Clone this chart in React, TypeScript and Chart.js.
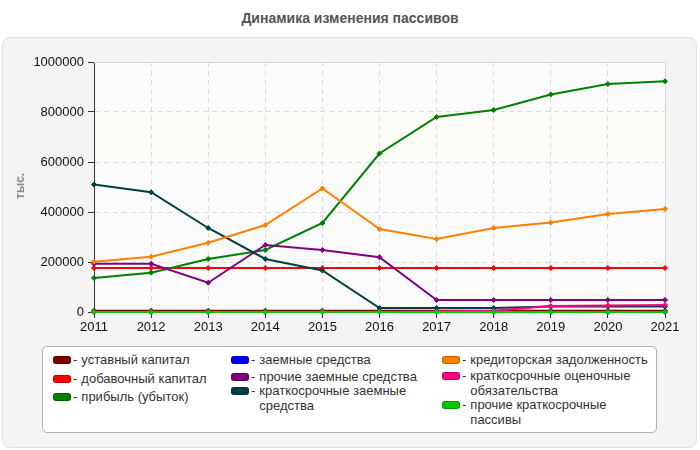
import React, { useEffect, useRef } from "react";
import { Chart, registerables } from "chart.js";

Chart.register(...registerables);

const FONT = "Arial, 'Liberation Sans', sans-serif";

const years = ["2011", "2012", "2013", "2014", "2015", "2016", "2017", "2018", "2019", "2020", "2021"];

// тыс. руб.
const ustavnyKapital = [5000, 5000, 5000, 5000, 5000, 5000, 5000, 5000, 5000, 5000, 5000];
const dobavochnyKapital = [176000, 176000, 176000, 176000, 176000, 176000, 176000, 176000, 176000, 176000, 176000];
const pribyl = [136000, 157000, 212000, 248000, 356000, 634000, 780000, 808000, 870000, 912000, 923000];
const zaemnyeSredstva = [0, 0, 0, 0, 0, 0, 0, 0, 0, 0, 0];
const prochieZaemnye = [193000, 193000, 117000, 268000, 248000, 219000, 48000, 48000, 48000, 48000, 48000];
const kratkZaemnye = [510000, 479000, 336000, 212000, 166000, 16000, 16000, 16000, 22000, 22000, 22000];
const kreditorskaya = [201000, 221000, 277000, 348000, 494000, 332000, 292000, 336000, 358000, 392000, 412000];
const ocenochnye = [0, 0, 0, 0, 0, 0, 2000, 5000, 24000, 26000, 28000];
const prochieKratk = [0, 0, 0, 0, 0, 0, 0, 0, 0, 0, 0];

const yTicksMax = 1000000;
const yTicksStep = 200000;

type Series = { label: string; data: number[]; color: string };

const series: Series[] = [
  { label: "уставный капитал", data: ustavnyKapital, color: "#800000" },
  { label: "добавочный капитал", data: dobavochnyKapital, color: "#ff0000" },
  { label: "прибыль (убыток)", data: pribyl, color: "#008000" },
  { label: "заемные средства", data: zaemnyeSredstva, color: "#0000ff" },
  { label: "прочие заемные средства", data: prochieZaemnye, color: "#800080" },
  { label: "краткосрочные заемные средства", data: kratkZaemnye, color: "#004040" },
  { label: "кредиторская задолженность", data: kreditorskaya, color: "#ff8000" },
  { label: "краткосрочные оценочные обязательства", data: ocenochnye, color: "#ff0080" },
  { label: "прочие краткосрочные пассивы", data: prochieKratk, color: "#00c800" },
];

// legend layout: [series index, left, top, text width]
const legendItems: [number, number, number, number][] = [
  [0, 53, 353, 140],
  [1, 53, 372, 140],
  [2, 53, 390, 140],
  [3, 231, 353, 168],
  [4, 231, 370, 168],
  [5, 231, 384, 168],
  [6, 442, 353, 185],
  [7, 442, 369, 185],
  [8, 442, 398, 185],
];

const plotBackground = {
  id: "plotBackground",
  beforeDraw(chart: any) {
    const { ctx, chartArea: a, scales } = chart;
    if (!a) return;
    const y = scales.y;
    ctx.save();
    ctx.fillStyle = "#ffffff";
    ctx.fillRect(a.left, a.top, a.right - a.left, a.bottom - a.top);
    const yTop = y.getPixelForValue(800000);
    const yBot = y.getPixelForValue(600000);
    ctx.fillStyle = "#fdfdf7";
    ctx.fillRect(a.left, yTop, a.right - a.left, yBot - yTop);
    // diagonal hatching
    const p = document.createElement("canvas");
    p.width = 4;
    p.height = 4;
    const pc = p.getContext("2d")!;
    pc.strokeStyle = "rgba(0,0,0,0.05)";
    pc.lineWidth = 1;
    pc.beginPath();
    pc.moveTo(0, 4);
    pc.lineTo(4, 0);
    pc.stroke();
    const pattern = ctx.createPattern(p, "repeat");
    if (pattern) {
      ctx.fillStyle = pattern;
      ctx.fillRect(a.left, yTop, a.right - a.left, a.top - yTop);
      ctx.fillRect(a.left, yBot, a.right - a.left, a.bottom - yBot);
    }
    ctx.restore();
  },
  beforeDatasetsDraw(chart: any) {
    const { ctx, chartArea: a } = chart;
    ctx.save();
    ctx.strokeStyle = "#d8d8d8";
    ctx.lineWidth = 1;
    ctx.beginPath();
    ctx.moveTo(a.left, a.top + 0.5);
    ctx.lineTo(a.right + 0.5, a.top + 0.5);
    ctx.lineTo(a.right + 0.5, a.bottom);
    ctx.stroke();
    ctx.restore();
  },
};

export default function App() {
  const ref = useRef<HTMLCanvasElement>(null);

  useEffect(() => {
    const chart = new Chart(ref.current!, {
      type: "line",
      data: {
        labels: years,
        datasets: series.map((s, i) => ({
          label: s.label,
          data: s.data,
          borderColor: s.color,
          backgroundColor: s.color,
          borderWidth: 2,
          pointStyle: "rectRot",
          pointRadius: 2.5,
          pointBorderWidth: 1,
          pointBackgroundColor: s.color,
          pointBorderColor: s.color,
          tension: 0,
          fill: false,
          clip: 6,
          order: -i,
        })),
      },
      plugins: [plotBackground],
      options: {
        responsive: false,
        animation: false,
        layout: { padding: { left: 0, right: 35, top: 25, bottom: 0 } },
        plugins: {
          legend: { display: false },
          title: { display: false },
          tooltip: { enabled: false },
        },
        scales: {
          x: {
            type: "category",
            offset: false,
            grid: { color: "#dcdcdc", tickColor: "#333", tickLength: 6, lineWidth: 1 },
            border: { color: "#333", width: 1, dash: [5, 4] },
            ticks: {
              color: "#111",
              font: { size: 13, family: FONT },
              padding: 2,
              maxRotation: 0,
              autoSkip: false,
            },
            afterFit: (s: any) => {
              s.height = 30;
            },
          },
          y: {
            min: 0,
            max: yTicksMax,
            grid: { color: "#dcdcdc", tickColor: "#333", tickLength: 6, lineWidth: 1 },
            border: { color: "#333", width: 1, dash: [5, 4] },
            ticks: {
              stepSize: yTicksStep,
              color: "#111",
              font: { size: 13, family: FONT },
              padding: 4,
              callback: (v: any) => String(v),
            },
            afterFit: (s: any) => {
              s.width = 94;
            },
          },
        },
      },
    });
    return () => chart.destroy();
  }, []);

  return (
    <div
      style={{
        position: "fixed",
        left: 0,
        top: 0,
        width: 700,
        height: 450,
        background: "#ffffff",
        fontFamily: FONT,
        overflow: "hidden",
      }}
    >
      <div
        style={{
          position: "absolute",
          left: 0,
          top: 10,
          width: 700,
          textAlign: "center",
          fontWeight: "bold",
          fontSize: 14,
          lineHeight: "16px",
          color: "#555",
        }}
      >
        Динамика изменения пассивов
      </div>
      <div
        style={{
          position: "absolute",
          left: 2,
          top: 37,
          width: 695,
          height: 411,
          boxSizing: "border-box",
          background: "#f4f4f4",
          border: "1px solid #e2e2e2",
          borderRadius: 8,
        }}
      />
      <canvas
        ref={ref}
        width={700}
        height={305}
        style={{ position: "absolute", left: 0, top: 37, width: 700, height: 305 }}
      />
      <div
        style={{
          position: "absolute",
          left: 20,
          top: 186,
          transform: "translate(-50%, -50%) rotate(-90deg)",
          fontSize: 12,
          fontWeight: "bold",
          color: "#888",
          whiteSpace: "nowrap",
        }}
      >
        тыс.
      </div>
      <div
        style={{
          position: "absolute",
          left: 42,
          top: 346,
          width: 615,
          height: 87,
          boxSizing: "border-box",
          background: "#ffffff",
          border: "1px solid #b4b4b4",
          borderRadius: 5,
        }}
      />
      {legendItems.map(([idx, left, top, w]) => {
        const s = series[idx];
        return (
          <div
            key={idx}
            style={{
              position: "absolute",
              left,
              top,
              display: "flex",
              alignItems: "flex-start",
              fontSize: 13,
              lineHeight: "14.5px",
              color: "#333",
            }}
          >
            <span
              style={{
                display: "inline-block",
                width: 18,
                height: 8,
                marginTop: 3,
                borderRadius: 3,
                background: s.color,
                boxShadow: "inset 0 0 0 1px rgba(0,0,0,0.25)",
                flex: "none",
              }}
            />
            <span style={{ margin: "0 4px 0 2px" }}>-</span>
            <span style={{ width: w }}>{s.label}</span>
          </div>
        );
      })}
    </div>
  );
}
